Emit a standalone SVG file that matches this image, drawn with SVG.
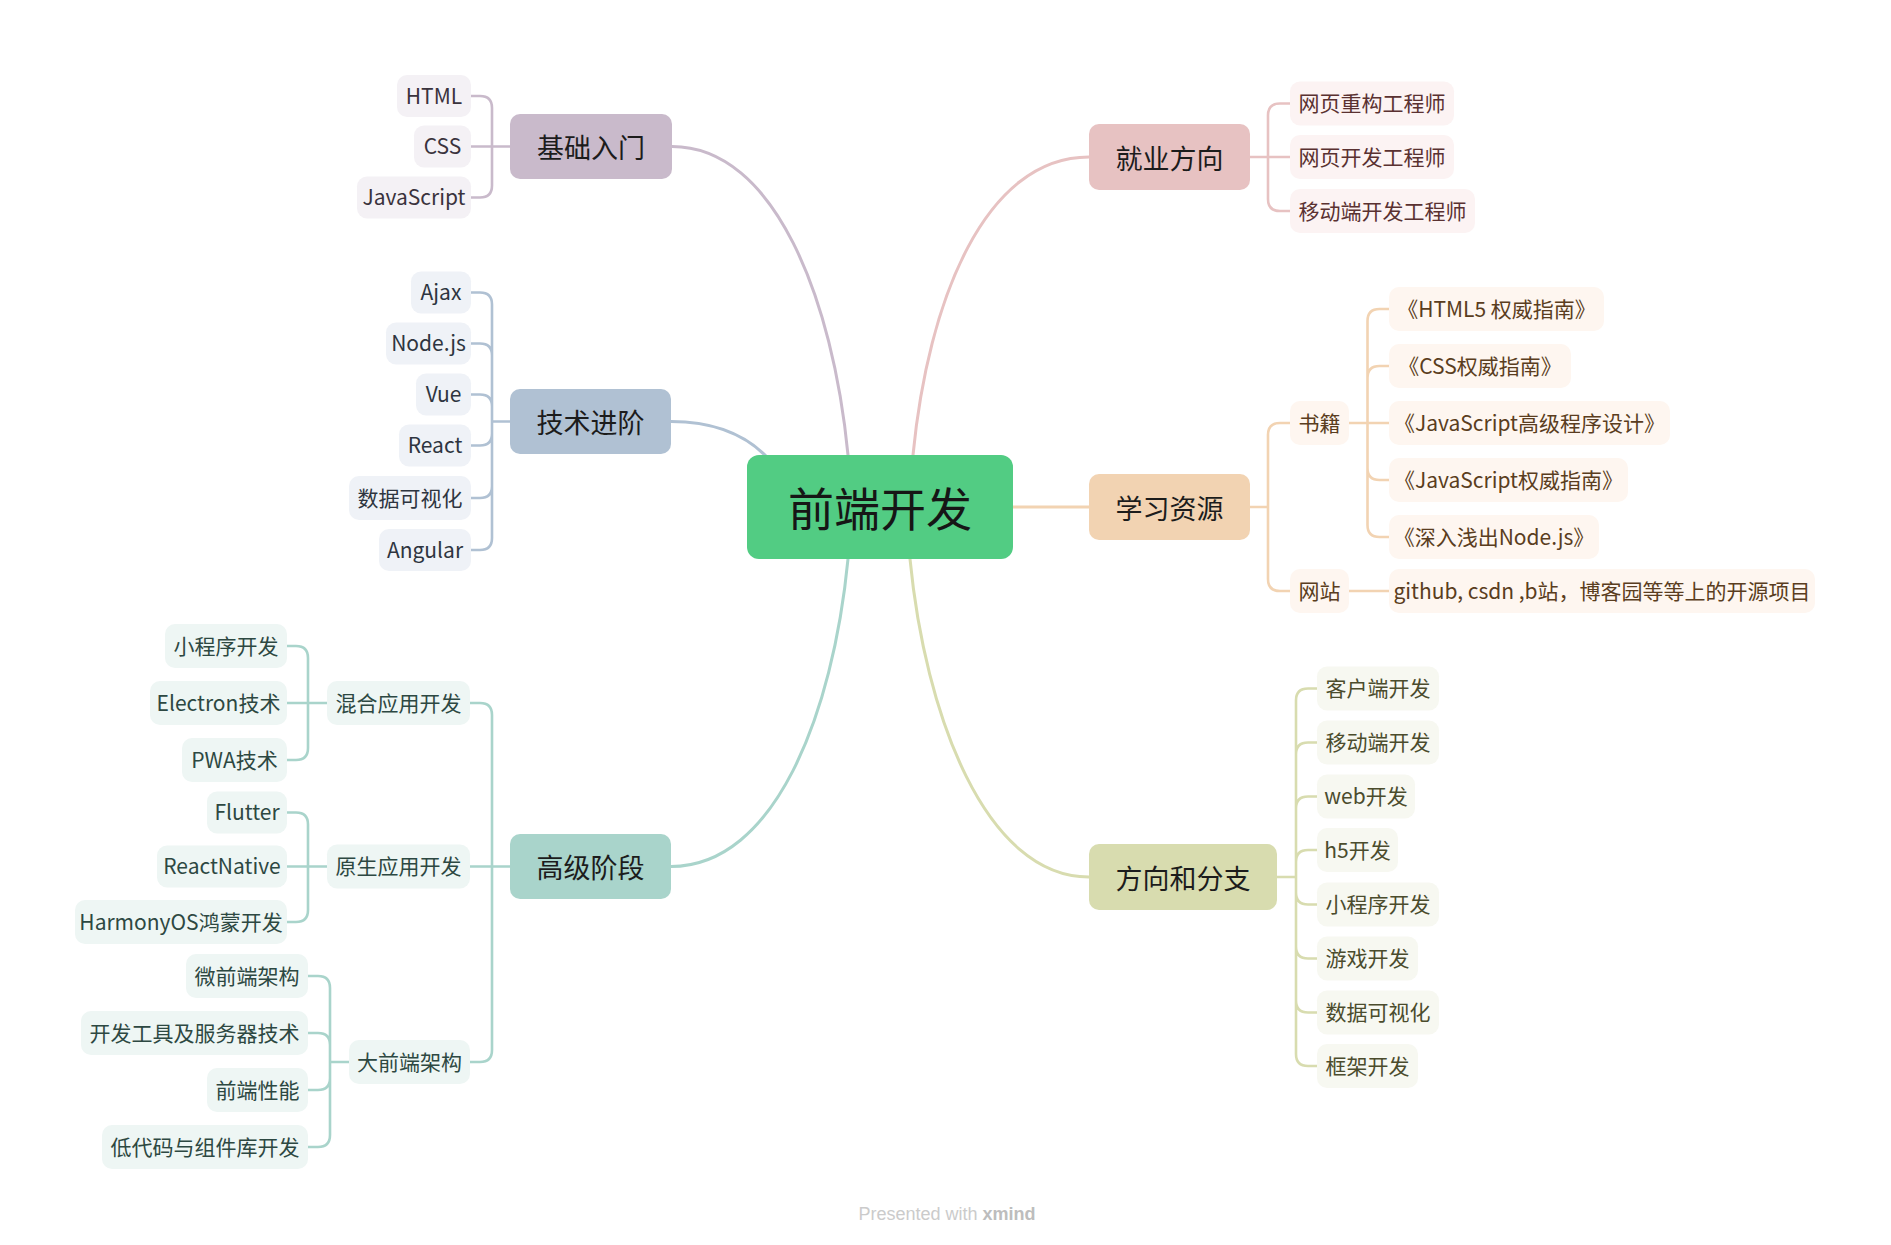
<svg xmlns="http://www.w3.org/2000/svg" width="1891" height="1245" viewBox="0 0 1891 1245">
<style>
text{font-family:"Noto Sans CJK SC","Noto Sans",sans-serif;text-anchor:middle}
.lt{font-size:21px}
.mt{font-size:27px;fill:#1c1c1c}
.ct{font-size:46px;fill:#161616}
.br{fill:none;stroke-width:3;stroke-linecap:round}
.sb{fill:none;stroke-width:2.6;stroke-linejoin:round}
.k1{stroke:#C9BACB}.k2{stroke:#B0C1D3}.k3{stroke:#A9D4CB}.k4{stroke:#E7C2C2}.k5{stroke:#F2D3B2}.k6{stroke:#D8DCAF}
.f1{fill:#F4F1F5}.f2{fill:#EFF2F7}.f3{fill:#EEF6F4}.f4{fill:#FCF3F3}.f5{fill:#FEF6F0}.f6{fill:#F7F8F1}
.x1{fill:#3a333d}.x2{fill:#2e3540}.x3{fill:#2d4842}.x4{fill:#5a3131}.x5{fill:#5a3d20}.x6{fill:#4b4c2d}
.foot{font-family:"Liberation Sans",sans-serif;font-size:18px;fill:#cbcbcb}
</style>
<rect width="1891" height="1245" fill="#ffffff"/>

<g id="connectors">
<path class="br k1" d="M672,146.5 C775,146.5 833,300 848,455"/>
<path class="br k2" d="M671,421.5 C715,421.5 745,435 766,456"/>
<path class="br k3" d="M848,559 C833,714 775,866.5 671,866.5"/>
<path class="br k4" d="M913,455 C928,300 985,157 1089,157"/>
<path class="br k5" d="M1013,507 H1089"/>
<path class="br k6" d="M910,559 C925,714 985,877 1089,877"/>

<path class="sb k1" d="M510,146.5 H492 M471,96 H480 Q492,96 492,108 V146.5 M471,146.5 H492 M471,197.5 H480 Q492,197.5 492,185.5 V146.5"/>
<path class="sb k2" d="M510,421.5 H492 M471,292.5 H480 Q492,292.5 492,304.5 V421.5 M471,343.5 H480 Q492,343.5 492,355.5 V421.5 M471,394.5 H480 Q492,394.5 492,406.5 V421.5 M471,445.5 H480 Q492,445.5 492,433.5 V421.5 M471,498 H480 Q492,498 492,486 V421.5 M471,550 H480 Q492,550 492,538 V421.5"/>
<path class="sb k3" d="M510,866.5 H492 M470,703 H480 Q492,703 492,715 V866.5 M470,866.5 H492 M470,1062 H480 Q492,1062 492,1050 V866.5"/>
<path class="sb k3" d="M327,703 H308 M287,646 H296 Q308,646 308,658 V703 M287,703 H308 M287,760 H296 Q308,760 308,748 V703"/>
<path class="sb k3" d="M327,866.5 H308 M287,812.5 H296 Q308,812.5 308,824.5 V866.5 M287,866.5 H308 M287,922 H296 Q308,922 308,910 V866.5"/>
<path class="sb k3" d="M349,1062 H330 M308,976 H318 Q330,976 330,988 V1062 M308,1033 H318 Q330,1033 330,1045 V1062 M308,1090 H318 Q330,1090 330,1078 V1062 M308,1147 H318 Q330,1147 330,1135 V1062"/>
<path class="sb k4" d="M1250,157 H1268 M1290,103.5 H1280 Q1268,103.5 1268,115.5 V157 M1290,157 H1268 M1290,211 H1280 Q1268,211 1268,199 V157"/>
<path class="sb k5" d="M1250,507 H1268 M1290,423 H1280 Q1268,423 1268,435 V507 M1290,591 H1280 Q1268,591 1268,579 V507"/>
<path class="sb k5" d="M1349,423 H1367.5 M1389,309 H1379.5 Q1367.5,309 1367.5,321 V423 M1389,366 H1379.5 Q1367.5,366 1367.5,378 V423 M1389,423 H1367.5 M1389,480 H1379.5 Q1367.5,480 1367.5,468 V423 M1389,537 H1379.5 Q1367.5,537 1367.5,525 V423"/>
<path class="sb k5" d="M1349,591 H1389"/>
<path class="sb k6" d="M1277,877 H1296 M1317,688.5 H1308 Q1296,688.5 1296,700.5 V877 M1317,742.5 H1308 Q1296,742.5 1296,754.5 V877 M1317,796.5 H1308 Q1296,796.5 1296,808.5 V877 M1317,850 H1308 Q1296,850 1296,862 V877 M1317,904.5 H1308 Q1296,904.5 1296,892.5 V877 M1317,958.5 H1308 Q1296,958.5 1296,946.5 V877 M1317,1012.5 H1308 Q1296,1012.5 1296,1000.5 V877 M1317,1066 H1308 Q1296,1066 1296,1054 V877"/>
</g>

<g id="root">
<rect x="747" y="455" width="266" height="104" rx="12" fill="#52CC83"/>
<text class="ct" x="880" y="526">前端开发</text>
</g>

<g id="b-jichu">
<rect x="510" y="114" width="162" height="65" rx="10" fill="#C9BACB"/>
<text class="mt" x="591" y="158">基础入门</text>
</g>
<g id="b-jishu">
<rect x="510" y="389" width="161" height="65" rx="10" fill="#B0C1D3"/>
<text class="mt" x="590.5" y="433">技术进阶</text>
</g>
<g id="b-gaoji">
<rect x="510" y="834" width="161" height="65" rx="10" fill="#A9D4CB"/>
<text class="mt" x="590.5" y="878">高级阶段</text>
</g>
<g id="b-jiuye">
<rect x="1089" y="124" width="161" height="66" rx="10" fill="#E7C2C2"/>
<text class="mt" x="1169.5" y="168.5">就业方向</text>
</g>
<g id="b-xuexi">
<rect x="1089" y="474" width="161" height="66" rx="10" fill="#F2D3B2"/>
<text class="mt" x="1169.5" y="518.5">学习资源</text>
</g>
<g id="b-fangxiang">
<rect x="1089" y="844" width="188" height="66" rx="10" fill="#D8DCAF"/>
<text class="mt" x="1183" y="888.5">方向和分支</text>
</g>

<g id="n-html"><rect class="f1" x="397" y="75" width="74" height="42" rx="10"/><text class="lt x1" x="434" y="103.5">HTML</text></g>
<g id="n-css"><rect class="f1" x="414" y="125.5" width="57" height="42" rx="10"/><text class="lt x1" x="442.5" y="154">CSS</text></g>
<g id="n-js"><rect class="f1" x="357" y="176.5" width="114" height="42" rx="10"/><text class="lt x1" x="414" y="205">JavaScript</text></g>

<g id="n-ajax"><rect class="f2" x="411" y="271.5" width="60" height="42" rx="10"/><text class="lt x2" x="441" y="300">Ajax</text></g>
<g id="n-node"><rect class="f2" x="386" y="322.5" width="85" height="42" rx="10"/><text class="lt x2" x="428.5" y="351">Node.js</text></g>
<g id="n-vue"><rect class="f2" x="416" y="373.5" width="55" height="42" rx="10"/><text class="lt x2" x="443.5" y="402">Vue</text></g>
<g id="n-react"><rect class="f2" x="399" y="424.5" width="72" height="42" rx="10"/><text class="lt x2" x="435" y="453">React</text></g>
<g id="n-shuju1"><rect class="f2" x="349" y="476" width="122" height="44" rx="10"/><text class="lt x2" x="410" y="505.5">数据可视化</text></g>
<g id="n-angular"><rect class="f2" x="379" y="529" width="92" height="42" rx="10"/><text class="lt x2" x="425" y="557.5">Angular</text></g>

<g id="n-hunhe"><rect class="f3" x="327" y="681" width="143" height="44" rx="10"/><text class="lt x3" x="398.5" y="710.5">混合应用开发</text></g>
<g id="n-yuansheng"><rect class="f3" x="327" y="844.5" width="143" height="44" rx="10"/><text class="lt x3" x="398.5" y="874">原生应用开发</text></g>
<g id="n-daqianduan"><rect class="f3" x="349" y="1040" width="121" height="44" rx="10"/><text class="lt x3" x="409.5" y="1069.5">大前端架构</text></g>

<g id="n-xcx1"><rect class="f3" x="165" y="624" width="122" height="44" rx="10"/><text class="lt x3" x="226" y="653.5">小程序开发</text></g>
<g id="n-electron"><rect class="f3" x="150" y="681" width="137" height="44" rx="10"/><text class="lt x3" x="218.5" y="710.5">Electron技术</text></g>
<g id="n-pwa"><rect class="f3" x="182" y="738" width="105" height="44" rx="10"/><text class="lt x3" x="234.5" y="767.5">PWA技术</text></g>

<g id="n-flutter"><rect class="f3" x="207" y="791.5" width="80" height="42" rx="10"/><text class="lt x3" x="247" y="820">Flutter</text></g>
<g id="n-rn"><rect class="f3" x="157" y="845.5" width="130" height="42" rx="10"/><text class="lt x3" x="222" y="874">ReactNative</text></g>
<g id="n-harmony"><rect class="f3" x="75" y="900" width="212" height="44" rx="10"/><text class="lt x3" x="181" y="929.5">HarmonyOS鸿蒙开发</text></g>

<g id="n-weiqianduan"><rect class="f3" x="186" y="954" width="122" height="44" rx="10"/><text class="lt x3" x="247" y="983.5">微前端架构</text></g>
<g id="n-kaifagongju"><rect class="f3" x="81" y="1011" width="227" height="44" rx="10"/><text class="lt x3" x="194.5" y="1040.5">开发工具及服务器技术</text></g>
<g id="n-xingneng"><rect class="f3" x="207" y="1068" width="101" height="44" rx="10"/><text class="lt x3" x="257.5" y="1097.5">前端性能</text></g>
<g id="n-didaima"><rect class="f3" x="102" y="1125" width="206" height="44" rx="10"/><text class="lt x3" x="205" y="1154.5">低代码与组件库开发</text></g>

<g id="n-chonggou"><rect class="f4" x="1290" y="81.5" width="164" height="44" rx="10"/><text class="lt x4" x="1372" y="111">网页重构工程师</text></g>
<g id="n-kaifa"><rect class="f4" x="1290" y="135" width="164" height="44" rx="10"/><text class="lt x4" x="1372" y="164.5">网页开发工程师</text></g>
<g id="n-yidong"><rect class="f4" x="1290" y="189" width="185" height="44" rx="10"/><text class="lt x4" x="1382.5" y="218.5">移动端开发工程师</text></g>

<g id="n-shuji"><rect class="f5" x="1290" y="401" width="59" height="44" rx="10"/><text class="lt x5" x="1319.5" y="430.5">书籍</text></g>
<g id="n-wangzhan"><rect class="f5" x="1290" y="569" width="59" height="44" rx="10"/><text class="lt x5" x="1319.5" y="598.5">网站</text></g>
<g id="n-book1"><rect class="f5" x="1389" y="287" width="215" height="44" rx="10"/><text class="lt x5" x="1496.5" y="316.5">《HTML5 权威指南》</text></g>
<g id="n-book2"><rect class="f5" x="1389" y="344" width="182" height="44" rx="10"/><text class="lt x5" x="1480" y="373.5">《CSS权威指南》</text></g>
<g id="n-book3"><rect class="f5" x="1389" y="401" width="281" height="44" rx="10"/><text class="lt x5" x="1529.5" y="430.5">《JavaScript高级程序设计》</text></g>
<g id="n-book4"><rect class="f5" x="1389" y="458" width="239" height="44" rx="10"/><text class="lt x5" x="1508.5" y="487.5">《JavaScript权威指南》</text></g>
<g id="n-book5"><rect class="f5" x="1389" y="515" width="210" height="44" rx="10"/><text class="lt x5" x="1494" y="544.5">《深入浅出Node.js》</text></g>
<g id="n-github"><rect class="f5" x="1389" y="569" width="426" height="44" rx="10"/><text class="lt x5" x="1602" y="598.5">github, csdn ,b站，博客园等等上的开源项目</text></g>

<g id="n-kehuduan"><rect class="f6" x="1317" y="666.5" width="122" height="44" rx="10"/><text class="lt x6" x="1378" y="696">客户端开发</text></g>
<g id="n-yidongduan"><rect class="f6" x="1317" y="720.5" width="122" height="44" rx="10"/><text class="lt x6" x="1378" y="750">移动端开发</text></g>
<g id="n-web"><rect class="f6" x="1317" y="774.5" width="98" height="44" rx="10"/><text class="lt x6" x="1366" y="804">web开发</text></g>
<g id="n-h5"><rect class="f6" x="1317" y="828" width="81" height="44" rx="10"/><text class="lt x6" x="1357.5" y="857.5">h5开发</text></g>
<g id="n-xcx2"><rect class="f6" x="1317" y="882.5" width="122" height="44" rx="10"/><text class="lt x6" x="1378" y="912">小程序开发</text></g>
<g id="n-youxi"><rect class="f6" x="1317" y="936.5" width="101" height="44" rx="10"/><text class="lt x6" x="1367.5" y="966">游戏开发</text></g>
<g id="n-shuju2"><rect class="f6" x="1317" y="990.5" width="122" height="44" rx="10"/><text class="lt x6" x="1378" y="1020">数据可视化</text></g>
<g id="n-kuangjia"><rect class="f6" x="1317" y="1044" width="101" height="44" rx="10"/><text class="lt x6" x="1367.5" y="1073.5">框架开发</text></g>

<text class="foot" x="947" y="1220">Presented with <tspan font-weight="bold" fill="#bdbdbd">xmind</tspan></text>
</svg>
